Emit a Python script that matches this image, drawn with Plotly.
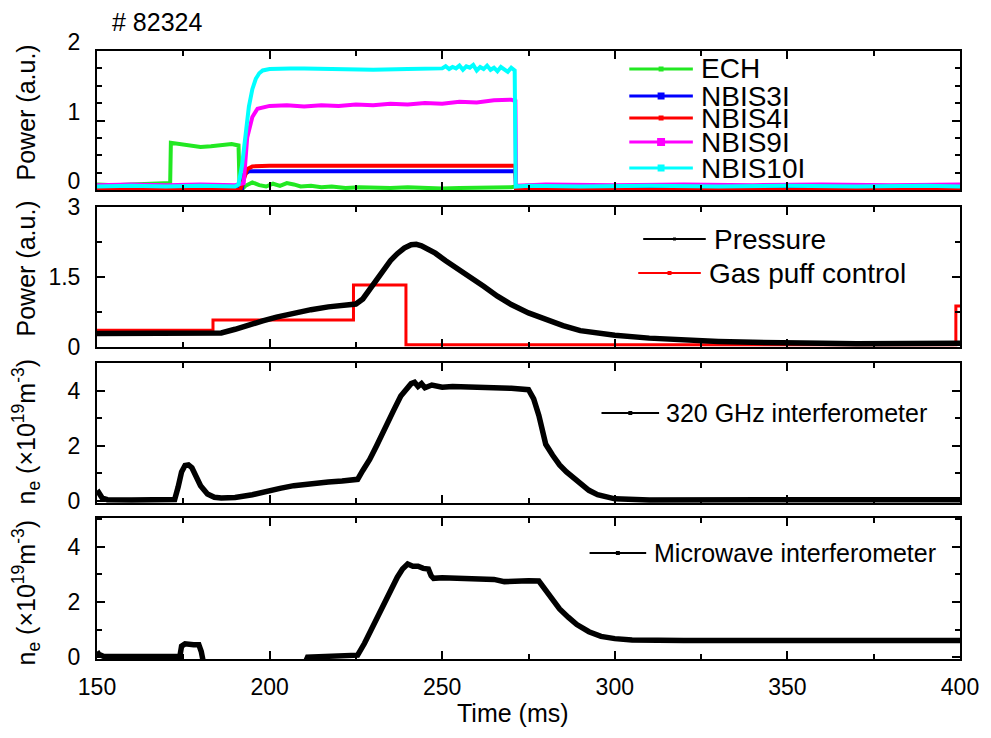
import plotly.graph_objects as go

# ---------------- figure geometry ----------------
W, H = 991, 738
ML, MR, MT, MB = 97, 25, 51, 79
FONT = "Liberation Sans"
PW, PH = W - ML - MR, H - MT - MB


def px_x(px):
    return (px - ML) / PW


def px_y(py):
    return (H - MB - py) / PH


# ---------------- shot #82324 : heating power ----------------
ech_t = [150, 155, 160, 165, 170, 171.2, 171.4, 174, 177, 180, 183, 186, 189, 191.0, 191.3, 191.8,
         193, 195, 197, 199, 201, 203, 205, 207, 209, 212, 215, 218, 222, 226, 230, 235, 240, 245,
         250, 255, 260, 265, 270, 271.3, 275, 290, 310, 330, 350, 370, 390, 400]
ech_p = [0.08, 0.07, 0.08, 0.09, 0.10, 0.10, 0.68, 0.66, 0.63, 0.62, 0.63, 0.65, 0.66, 0.64, 0.05, 0.00,
         0.06, 0.11, 0.07, 0.05, 0.09, 0.06, 0.10, 0.08, 0.05, 0.06, 0.04, 0.05, 0.03, 0.04, 0.03, 0.03,
         0.04, 0.03, 0.02, 0.03, 0.03, 0.03, 0.04, 0.05, 0.06, 0.06, 0.05, 0.06, 0.05, 0.06, 0.05, 0.06]

nbi3_t = [150, 192.0, 192.5, 194, 200, 210, 220, 230, 240, 250, 260, 270, 271.2, 271.4, 300, 400]
nbi3_p = [0.01, 0.01, 0.22, 0.27, 0.27, 0.27, 0.27, 0.27, 0.27, 0.27, 0.27, 0.27, 0.27, 0.01, 0.01, 0.01]

nbi4_t = [150, 191.5, 192.5, 193.5, 195, 200, 210, 220, 230, 240, 250, 260, 270, 271.2, 271.4, 300, 400]
nbi4_p = [0.0, 0.0, 0.15, 0.30, 0.34, 0.35, 0.35, 0.35, 0.35, 0.35, 0.35, 0.35, 0.35, 0.35, 0.0, 0.0, 0.0]

nbi9_t = [150, 160, 170, 180, 190, 192.5, 193.5, 195, 196.5, 198, 200, 205, 210, 215, 220, 225, 230,
          235, 240, 245, 250, 255, 260, 265, 270, 271.2, 271.4, 280, 300, 320, 340, 360, 380, 400]
nbi9_p = [0.07, 0.08, 0.07, 0.08, 0.07, 0.10, 0.75, 1.05, 1.17, 1.19, 1.21, 1.22, 1.20, 1.22, 1.21,
          1.23, 1.22, 1.24, 1.23, 1.25, 1.24, 1.27, 1.26, 1.29, 1.30, 1.28, 0.06, 0.08, 0.07, 0.08,
          0.07, 0.08, 0.07, 0.08]

nbi10_t = [150, 160, 170, 180, 190, 191, 192, 193, 194, 195, 196, 197, 198, 200, 203, 206, 210, 220,
           230, 240, 245, 248, 250, 251, 252, 253, 254, 255, 256, 257, 258, 259, 260, 261, 262, 263,
           264, 265, 266, 267, 268, 269, 270, 271, 271.3, 275, 290, 310, 330, 350, 370, 390, 400]
nbi10_p = [0.05, 0.06, 0.05, 0.06, 0.05, 0.08, 0.35, 0.80, 1.20, 1.45, 1.60, 1.68, 1.72, 1.74, 1.75,
           1.75, 1.75, 1.74, 1.73, 1.74, 1.75, 1.76, 1.75, 1.78, 1.74, 1.77, 1.75, 1.79, 1.73, 1.78,
           1.76, 1.80, 1.72, 1.77, 1.74, 1.79, 1.73, 1.76, 1.71, 1.77, 1.74, 1.70, 1.76, 1.72, 0.05,
           0.06, 0.05, 0.06, 0.05, 0.06, 0.05, 0.06, 0.05]

# ---------------- pressure and gas puff ----------------
pres_t = [150, 160, 170, 180, 186, 190, 194, 198, 202, 207, 212, 217, 221, 225, 227, 229, 231, 233,
          235, 237, 239, 241, 242.5, 244, 246, 248, 251, 254, 258, 262, 266, 270, 275, 280, 285, 290,
          300, 310, 320, 330, 340, 350, 360, 370, 380, 390, 400]
pres_v = [0.29, 0.29, 0.29, 0.29, 0.30, 0.38, 0.48, 0.56, 0.64, 0.73, 0.80, 0.86, 0.89, 0.92, 1.03,
          1.24, 1.45, 1.66, 1.85, 2.00, 2.12, 2.19, 2.20, 2.17, 2.10, 2.01, 1.85, 1.69, 1.50, 1.30,
          1.09, 0.91, 0.73, 0.58, 0.46, 0.35, 0.25, 0.19, 0.15, 0.12, 0.10, 0.08, 0.08, 0.07, 0.07,
          0.07, 0.08]

puff_t = [150, 183.6, 224.3, 239.5, 398.8, 400]
puff_v = [0.36, 0.58, 1.33, 0.05, 0.88, 0.88]

# ---------------- line-integrated density ----------------
fir_t = [150, 150.5, 151.5, 153, 160, 170, 172.5, 173.5, 174.5, 175.5, 176.5, 177.5, 178.5, 180, 182,
         184, 186, 190, 195, 199, 203, 207, 212, 217, 221, 225.5, 227, 229, 231, 233.5, 236, 238,
         240, 241, 242, 243, 244, 245, 247, 250, 253, 256, 260, 265, 270, 275, 276.5, 278, 280, 282,
         284, 286, 288, 290, 292.5, 295, 298, 300, 310, 330, 350, 370, 390, 400]
fir_ne = [0.25, 0.30, 0.10, 0.04, 0.03, 0.03, 0.05, 0.50, 1.05, 1.28, 1.30, 1.20, 0.95, 0.55, 0.25,
          0.13, 0.10, 0.12, 0.22, 0.36, 0.45, 0.55, 0.63, 0.68, 0.72, 0.78, 1.10, 1.50, 2.00, 2.70,
          3.30, 3.80, 4.10, 4.25, 4.30, 4.15, 4.25, 4.10, 4.20, 4.12, 4.15, 4.14, 4.13, 4.10, 4.08,
          4.03, 3.70, 3.10, 2.05, 1.65, 1.30, 1.05, 0.83, 0.62, 0.38, 0.22, 0.12, 0.07, 0.03, 0.03,
          0.02, 0.03, 0.03, 0.04]

mw_t = [150, 150.5, 152, 160, 170, 174, 174.5, 175.5, 178, 179.5, 180.2, 181, 190, 200, 210, 211,
        215, 220, 225.5, 227.5, 230, 232.5, 235, 237, 238.5, 240, 241.5, 243, 244.5, 246, 246.8,
        247.5, 250, 255, 260, 265, 268, 272, 275, 278, 280, 282, 284, 286.5, 289, 292.5, 296, 300,
        305, 320, 350, 380, 400]
mw_ne = [0.20, 0.10, 0.02, 0.02, 0.02, 0.02, 0.40, 0.48, 0.45, 0.45, 0.20, -0.30, -0.30, -0.30,
         -0.30, 0.00, 0.02, 0.04, 0.07, 0.50, 1.15, 1.80, 2.45, 2.90, 3.20, 3.38, 3.30, 3.30, 3.22,
         3.20, 2.95, 2.86, 2.88, 2.85, 2.86, 2.82, 2.74, 2.78, 2.77, 2.76, 2.40, 2.05, 1.75, 1.45,
         1.18, 0.92, 0.75, 0.67, 0.62, 0.60, 0.60, 0.60, 0.60]

# ---------------- traces ----------------
power_series = [
    ("ECH", ech_t, ech_p, "#22e822"),
    ("NBIS3I", nbi3_t, nbi3_p, "#0000ff"),
    ("NBIS4I", nbi4_t, nbi4_p, "#ff0000"),
    ("NBIS9I", nbi9_t, nbi9_p, "#ff00ff"),
    ("NBIS10I", nbi10_t, nbi10_p, "#00ffff"),
]

fig = go.Figure()
for name, t, p, c in power_series:
    fig.add_trace(go.Scatter(x=t, y=p, name=name, mode="lines", xaxis="x", yaxis="y",
                             line=dict(color=c, width=4), showlegend=False))

fig.add_trace(go.Scatter(x=puff_t, y=puff_v, name="Gas puff control", mode="lines",
                         line=dict(color="#ff0000", width=3, shape="hv"),
                         xaxis="x2", yaxis="y2", showlegend=False))
fig.add_trace(go.Scatter(x=pres_t, y=pres_v, name="Pressure", mode="lines",
                         line=dict(color="black", width=5.5), xaxis="x2", yaxis="y2",
                         showlegend=False))
fig.add_trace(go.Scatter(x=fir_t, y=fir_ne, name="320 GHz interferometer", mode="lines",
                         line=dict(color="black", width=5.5), xaxis="x3", yaxis="y3",
                         showlegend=False))
fig.add_trace(go.Scatter(x=mw_t, y=mw_ne, name="Microwave interferometer", mode="lines",
                         line=dict(color="black", width=5.5), xaxis="x4", yaxis="y4",
                         showlegend=False))

# ---------------- axes ----------------
domains = [(px_y(190), 1.0), (px_y(347), px_y(207)), (px_y(503), px_y(363)), (0.0, px_y(518))]
yranges = [[0, 2], [0, 3], [-0.08, 5], [-0.07, 5.05]]
ydticks = [1, 1.5, 2, 2]
yminor = [0.25, 0.75, 1, 1]

common = dict(showline=True, linecolor="black", linewidth=2, mirror="allticks",
              ticks="inside", ticklen=8, tickwidth=2, tickcolor="black",
              showgrid=False, zeroline=False,
              tickfont=dict(family=FONT, size=23, color="black"))

layout_axes = {}
for i in range(4):
    sfx = "" if i == 0 else str(i + 1)
    layout_axes["xaxis" + sfx] = dict(
        common, domain=[0, 1], anchor="y" + sfx, range=[150, 400], dtick=50, tick0=150,
        showticklabels=(i == 3), ticklabelstandoff=6,
        minor=dict(ticks="inside", ticklen=5, tickwidth=2, tickcolor="black", dtick=25,
                   showgrid=False),
    )
    layout_axes["yaxis" + sfx] = dict(
        common, domain=list(domains[i]), anchor="x" + sfx, range=yranges[i], dtick=ydticks[i],
        tick0=0, ticklabelstandoff=10, ticklabelshift=(-9 if i == 0 else 0),
        minor=dict(ticks="inside", ticklen=5, tickwidth=2, tickcolor="black",
                   dtick=yminor[i], showgrid=False),
    )

# ---------------- hand-placed legends and labels ----------------
shapes = []
annotations = []


def legend_entry(label, color, x0, x1, xt, yc, size, msize, lw=2):
    shapes.append(dict(type="line", xref="paper", yref="paper", x0=px_x(x0), x1=px_x(x1),
                       y0=px_y(yc), y1=px_y(yc), line=dict(color=color, width=lw)))
    xm = (x0 + x1) / 2
    h = msize / 2
    shapes.append(dict(type="rect", xref="paper", yref="paper", x0=px_x(xm - h), x1=px_x(xm + h),
                       y0=px_y(yc + h), y1=px_y(yc - h), fillcolor=color,
                       line=dict(width=0)))
    annotations.append(dict(text=label, xref="paper", yref="paper", x=px_x(xt), y=px_y(yc),
                            xanchor="left", yanchor="middle", showarrow=False,
                            font=dict(family=FONT, size=size, color="black")))


legend1_rows = [69, 96, 118, 142, 168]
legend1_marks = [5, 7, 5, 8, 7]
for (name, _, _, c), yc, ms in zip(power_series, legend1_rows, legend1_marks):
    legend_entry(name, c, 633, 697, 703, yc, 28, ms, lw=3)

legend_entry("Pressure", "black", 647, 710, 716, 239, 28, 3)
legend_entry("Gas puff control", "#ff0000", 642, 705, 711, 273, 28, 4)
legend_entry("320 GHz interferometer", "black", 605, 663, 668, 413, 25, 4)
legend_entry("Microwave interferometer", "black", 593, 650, 656, 553, 25, 4)

ytitles = [("Power (a.u.)", 112), ("Power (a.u.)", 268),
           ("n<sub>e</sub> (×10<sup>19</sup>m<sup>-3</sup>)", 431),
           ("n<sub>e</sub> (×10<sup>19</sup>m<sup>-3</sup>)", 592)]
for text, yc in ytitles:
    annotations.append(dict(text=text, xref="paper", yref="paper", x=px_x(26), y=px_y(yc),
                            xanchor="center", yanchor="middle", textangle=-90, showarrow=False,
                            font=dict(family=FONT, size=25, color="black")))

annotations.append(dict(text="Time (ms)", xref="paper", yref="paper", x=px_x(516), y=px_y(713),
                        xanchor="center", yanchor="middle", showarrow=False,
                        font=dict(family=FONT, size=25, color="black")))
annotations.append(dict(text="# 82324", xref="paper", yref="paper", x=px_x(110), y=px_y(22),
                        xanchor="left", yanchor="middle", showarrow=False,
                        font=dict(family=FONT, size=25, color="black")))

fig.update_layout(
    width=W, height=H,
    margin=dict(l=ML, r=MR, t=MT, b=MB),
    paper_bgcolor="white", plot_bgcolor="white",
    font=dict(family=FONT, color="black"),
    showlegend=False,
    shapes=shapes, annotations=annotations,
    **layout_axes,
)

fig.write_html("out.html")
